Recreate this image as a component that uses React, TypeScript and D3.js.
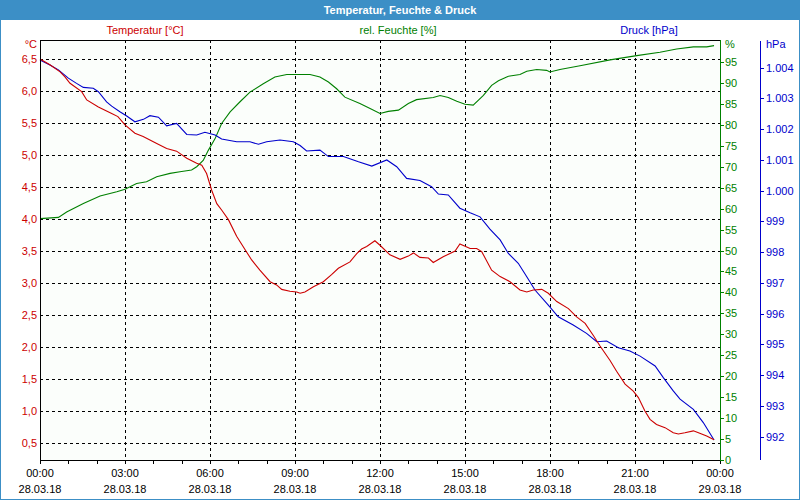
import React from "react";
import * as d3 from "d3";

const title = "Temperatur, Feuchte & Druck";
const tempLabel = "Temperatur [°C]";
const humLabel = "rel. Feuchte [%]";
const presLabel = "Druck [hPa]";

const timeTicks = [0, 3, 6, 9, 12, 15, 18, 21, 24];
const timeLabels = ["00:00", "03:00", "06:00", "09:00", "12:00", "15:00", "18:00", "21:00", "00:00"];
const dateLabels = ["28.03.18", "28.03.18", "28.03.18", "28.03.18", "28.03.18", "28.03.18", "28.03.18", "28.03.18", "29.03.18"];
const tempTicks = [0.5, 1.0, 1.5, 2.0, 2.5, 3.0, 3.5, 4.0, 4.5, 5.0, 5.5, 6.0, 6.5];
const humTicks = [0, 5, 10, 15, 20, 25, 30, 35, 40, 45, 50, 55, 60, 65, 70, 75, 80, 85, 90, 95];
const presTicks = [992, 993, 994, 995, 996, 997, 998, 999, 1000, 1001, 1002, 1003, 1004];

// [hour, °C]
const temperature: [number, number][] = [
  [0, 6.5], [0.35, 6.41], [0.71, 6.3], [0.88, 6.22], [1.06, 6.12], [1.47, 5.99], [1.65, 5.86],
  [2.06, 5.75], [2.53, 5.65], [2.75, 5.6], [3.0, 5.47], [3.35, 5.34], [3.64, 5.29], [4.12, 5.18],
  [4.47, 5.1], [4.82, 5.06], [5.18, 4.95], [5.53, 4.87], [5.71, 4.84], [5.88, 4.71], [6.06, 4.45],
  [6.24, 4.24], [6.41, 4.14], [6.65, 3.99], [6.94, 3.73], [7.24, 3.52], [7.47, 3.36], [7.76, 3.2],
  [8.12, 3.02], [8.35, 2.97], [8.53, 2.9], [8.82, 2.87], [9.06, 2.86], [9.18, 2.84], [9.35, 2.86],
  [9.65, 2.94], [10.0, 3.02], [10.29, 3.13], [10.53, 3.23], [10.94, 3.33], [11.18, 3.46],
  [11.35, 3.53], [11.53, 3.57], [11.82, 3.66], [12.0, 3.59], [12.35, 3.44], [12.71, 3.37],
  [13.0, 3.42], [13.18, 3.47], [13.41, 3.4], [13.71, 3.39], [13.88, 3.32], [14.23, 3.41],
  [14.65, 3.5], [14.82, 3.61], [15.18, 3.54], [15.41, 3.54], [15.59, 3.49], [15.94, 3.2],
  [16.24, 3.1], [16.59, 3.02], [16.94, 2.89], [17.18, 2.86], [17.41, 2.89], [17.71, 2.9],
  [17.94, 2.84], [18.24, 2.71], [18.65, 2.6], [18.94, 2.47], [19.24, 2.37], [19.53, 2.18],
  [19.76, 2.02], [20.12, 1.79], [20.35, 1.62], [20.65, 1.42], [20.94, 1.31], [21.12, 1.21],
  [21.35, 1.0], [21.53, 0.87], [21.76, 0.79], [22.06, 0.74], [22.35, 0.66], [22.53, 0.64],
  [22.76, 0.66], [23.06, 0.69], [23.24, 0.66], [23.53, 0.61], [23.79, 0.55],
];

// [hour, %]
const humidity: [number, number][] = [
  [0, 57.6], [0.65, 57.9], [0.94, 59.2], [1.53, 61.2], [2.12, 63.0], [2.71, 64.0], [3.0, 64.6],
  [3.41, 66.0], [3.76, 66.4], [4.12, 67.6], [4.59, 68.4], [4.94, 68.8], [5.35, 69.2], [5.53, 70.0],
  [5.76, 71.5], [5.94, 73.9], [6.18, 76.7], [6.41, 80.3], [6.71, 83.1], [7.06, 85.5], [7.41, 87.8],
  [7.88, 89.8], [8.29, 91.4], [8.71, 92.0], [9.18, 92.0], [9.53, 92.0], [9.88, 91.4], [10.18, 90.2],
  [10.47, 88.6], [10.76, 86.6], [11.29, 85.1], [11.65, 83.9], [12.0, 82.7], [12.29, 83.2],
  [12.65, 83.5], [13.0, 85.1], [13.29, 86.0], [13.88, 86.5], [14.12, 87.0], [14.41, 86.5],
  [14.71, 85.6], [15.0, 84.9], [15.29, 84.7], [15.65, 87.0], [15.94, 89.4], [16.18, 90.5],
  [16.53, 91.6], [16.94, 92.0], [17.18, 92.8], [17.53, 93.2], [17.88, 93.0], [18.0, 92.6],
  [18.35, 93.2], [19.06, 94.1], [20.12, 95.5], [21.06, 96.5], [21.88, 97.3], [22.47, 98.1],
  [23.06, 98.6], [23.53, 98.6], [23.79, 98.9],
];

// [hour, hPa]
const pressure: [number, number][] = [
  [0, 1004.25], [0.35, 1004.09], [0.65, 1003.93], [1.0, 1003.66], [1.29, 1003.49], [1.53, 1003.36],
  [1.88, 1003.33], [2.06, 1003.22], [2.35, 1002.89], [2.53, 1002.75], [2.82, 1002.57],
  [3.06, 1002.43], [3.35, 1002.24], [3.65, 1002.32], [3.88, 1002.44], [4.18, 1002.39],
  [4.47, 1002.11], [4.82, 1002.19], [5.18, 1001.83], [5.53, 1001.81], [5.82, 1001.9],
  [6.18, 1001.81], [6.41, 1001.68], [6.94, 1001.59], [7.41, 1001.59], [7.71, 1001.51],
  [8.0, 1001.59], [8.47, 1001.65], [8.94, 1001.59], [9.18, 1001.47], [9.41, 1001.29],
  [9.88, 1001.32], [10.18, 1001.11], [10.71, 1001.11], [11.24, 1000.94], [11.71, 1000.8],
  [12.24, 1001.0], [12.59, 1000.78], [12.94, 1000.4], [13.41, 1000.33], [13.82, 1000.13],
  [14.06, 999.89], [14.41, 999.86], [14.82, 999.43], [15.18, 999.28], [15.53, 999.15],
  [15.88, 998.75], [16.24, 998.4], [16.53, 997.96], [16.88, 997.64], [17.18, 997.2],
  [17.47, 996.77], [17.94, 996.28], [18.29, 995.9], [18.82, 995.63], [19.29, 995.36],
  [19.65, 995.09], [20.0, 995.11], [20.41, 994.89], [20.82, 994.79], [21.18, 994.62],
  [21.71, 994.3], [22.0, 993.92], [22.35, 993.49], [22.59, 993.22], [23.06, 992.89],
  [23.41, 992.46], [23.79, 991.89],
];

const W = 800;
const H = 500;
const L = 40, R = 720, T = 40, B = 460;
const PX = 760;

const BLUE_BAR = "#3c8fc6";
const RED = "#cc0000";
const GREEN = "#008000";
const PBLUE = "#0000cc";
const FONT = "Tahoma, 'Liberation Sans', Arial, sans-serif";

const de = d3.formatLocale({ decimal: ",", thousands: ".", grouping: [3], currency: ["", "€"] });
const fT = de.format(".1f");
const fP = de.format(",.0f");

export default function App() {
  const x = d3.scaleLinear().domain([0, 24]).range([L, R]);
  const yT = d3.scaleLinear().domain([0.5, 6.5]).range([443, 59]);
  const yH = d3.scaleLinear().domain([0, 100]).range([B, 41]);
  const yP = d3.scaleLinear().domain([992, 1004]).range([436.7, 67.7]);

  const lineT = d3.line<[number, number]>().x((d) => x(d[0])).y((d) => yT(d[1]));
  const lineH = d3.line<[number, number]>().x((d) => x(d[0])).y((d) => yH(d[1]));
  const lineP = d3.line<[number, number]>().x((d) => x(d[0])).y((d) => yP(d[1]));
  const hours = d3.range(0, 25);

  return (
    <svg width={W} height={H} style={{ position: "absolute", left: 0, top: 0, background: "#fff" }} fontFamily={FONT} fontSize={11}>
      <rect x={0} y={0} width={W} height={H} fill="#fff" />
      <rect x={0} y={0} width={W} height={20} fill={BLUE_BAR} />
      <rect x={0.5} y={0.5} width={W - 1} height={H - 1} fill="none" stroke={BLUE_BAR} strokeWidth={1} />
      <text x={400} y={14} textAnchor="middle" fill="#fff" fontWeight="bold" fontSize={11}>{title}</text>

      <text x={145} y={34} textAnchor="middle" fill={RED}>{tempLabel}</text>
      <text x={398} y={34} textAnchor="middle" fill={GREEN}>{humLabel}</text>
      <text x={649} y={34} textAnchor="middle" fill={PBLUE}>{presLabel}</text>

      <rect x={L} y={T} width={R - L} height={B - T} fill="#fbfefb" />

      {/* grid */}
      <g stroke="#000" strokeDasharray="3,3" shapeRendering="crispEdges">
        {tempTicks.map((t) => (
          <line key={"h" + t} x1={L} x2={R} y1={Math.round(yT(t)) + 0.5} y2={Math.round(yT(t)) + 0.5} />
        ))}
        {timeTicks.slice(1, -1).map((t) => (
          <line key={"v" + t} x1={Math.round(x(t)) + 0.5} x2={Math.round(x(t)) + 0.5} y1={T} y2={B} />
        ))}
      </g>

      {/* series */}
      <path d={lineH(humidity) || ""} fill="none" stroke={GREEN} strokeWidth={1.1} />
      <path d={lineP(pressure) || ""} fill="none" stroke={PBLUE} strokeWidth={1.1} />
      <path d={lineT(temperature) || ""} fill="none" stroke={RED} strokeWidth={1.1} />

      {/* frame */}
      <g shapeRendering="crispEdges">
        <line x1={L + 0.5} x2={L + 0.5} y1={T} y2={B + 1} stroke="#000" />
        <line x1={L} x2={R} y1={T + 0.5} y2={T + 0.5} stroke="#000" />
        <line x1={L} x2={R} y1={B + 0.5} y2={B + 0.5} stroke="#000" />
        <line x1={R + 0.5} x2={R + 0.5} y1={T} y2={B + 1} stroke={GREEN} />
        <line x1={PX + 0.5} x2={PX + 0.5} y1={T + 1} y2={B} stroke={PBLUE} />
        {hours.map((h) => (
          <line key={"t" + h} x1={Math.round(x(h)) + 0.5} x2={Math.round(x(h)) + 0.5} y1={B} y2={B + 4} stroke="#000" />
        ))}
        {humTicks.map((v) => (
          <line key={"ht" + v} x1={R} x2={R + 4} y1={Math.round(yH(v)) + 0.5} y2={Math.round(yH(v)) + 0.5} stroke={GREEN} />
        ))}
        {presTicks.map((v) => (
          <line key={"pt" + v} x1={PX} x2={PX + 4} y1={Math.round(yP(v)) + 0.5} y2={Math.round(yP(v)) + 0.5} stroke={PBLUE} />
        ))}
      </g>

      {/* left labels */}
      <text x={37} y={48} textAnchor="end" fill={RED}>°C</text>
      {tempTicks.map((t) => (
        <text key={"tl" + t} x={37} y={yT(t) + 4} textAnchor="end" fill={RED}>{fT(t)}</text>
      ))}

      {/* humidity labels */}
      <text x={725} y={48} fill={GREEN}>%</text>
      {humTicks.map((v) => (
        <text key={"hl" + v} x={725} y={yH(v) + 4} fill={GREEN}>{v}</text>
      ))}

      {/* pressure labels */}
      <text x={766} y={48} fill={PBLUE}>hPa</text>
      {presTicks.map((v) => (
        <text key={"pl" + v} x={766} y={yP(v) + 4} fill={PBLUE}>{fP(v)}</text>
      ))}

      {/* x labels */}
      {timeTicks.map((t, i) => (
        <g key={"xl" + i}>
          <text x={x(t)} y={477} textAnchor="middle" fill="#000">{timeLabels[i]}</text>
          <text x={x(t)} y={493} textAnchor="middle" fill="#000">{dateLabels[i]}</text>
        </g>
      ))}
    </svg>
  );
}
